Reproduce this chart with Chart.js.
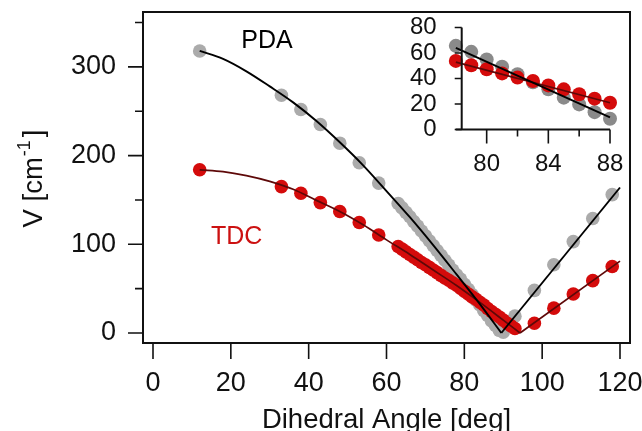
<!DOCTYPE html>
<html><head><meta charset="utf-8">
<script src="https://cdn.jsdelivr.net/npm/chart.js@4.4.1/dist/chart.umd.min.js"></script>
<style>
html,body{margin:0;padding:0;background:#fff;}
#wrap{position:relative;width:642px;height:431px;overflow:hidden;}
#main{position:absolute;left:0;top:0;}
#inset{position:absolute;left:380px;top:10px;}
</style></head><body>
<div id="wrap">
<canvas id="main" width="642" height="431" style="width:642px;height:431px"></canvas>
<canvas id="inset" width="250" height="170" style="width:250px;height:170px"></canvas>
</div>
<script>
// ---------- data ----------
const pdaAngle = [12,33,38,43,48,53,58,63,64,65,66,67,68,69,70,71,72,73,74,75,76,77,78,79,80,81,82,83,84,85,86,87,88,89,90,93,98,103,108,113,118];
const pdaV     = [318,268,252,235,214,192,169,146,141,136,131,125.5,120.5,115,109.5,104,98.5,93,87.5,82,76.5,71,65.6,60.9,55,49.3,43.3,37,31.5,25,19.7,13.6,8.4,3,1,19,48,77,103,129,156];

const tdcAngle = [12,33,38,43,48,53,58,63,64,65,66,67,68,69,70,71,72,73,74,75,76,77,78,79,80,81,82,83,84,85,86,87,88,89,90,91,92,93,98,103,108,113,118];
const tdcV     = [184,165,157.5,147,137,124.5,110.5,97.5,94.5,91.5,88.5,85.5,82.5,79.5,77,74,71,68,65,62,59.5,56.5,53.8,50.4,47.2,44,40.7,38,34.6,31.5,27.6,24.2,21,18,14.5,11,8,5,11,28,44,59,75];

// fitted curves
const pdaFitLeftAngle  = [12,18,24,30,36,42,48,54,60,66,72,78,84,89.5];
const pdaFitLeftV      = [318,309,295,278,260,239,215,189,160,130.5,99,66,32.5,0];
const pdaFitRightAngle = [89.5,120];
const pdaFitRightV     = [0,164];
const tdcFitLeftAngle  = [12,18,24,30,36,42,48,54,60,66,72,78,84,90,94.3];
const tdcFitLeftV      = [184,182,177.5,171,162,149.5,137,122,105,88.5,71,53.5,34.5,14.5,0];
const tdcFitRightAngle = [94.3,120];
const tdcFitRightV     = [0,81];

// inset fits
const pdaInsetFitAngle = [78,88];
const pdaInsetFitV     = [64,9.6];
const tdcInsetFitAngle = [78,88];
const tdcInsetFitV     = [52.8,21];

// ticks
const xTickValues = [0,20,40,60,80,100,120];
const yTickValues = [0,100,200,300];
const yMinorTickValues = [50,150,250,350];
const insetXTickValues = [80,84,88];
const insetXMinorTickValues = [82,86];
const insetYTickValues = [0,20,40,60,80];

const xTitle = 'Dihedral Angle [deg]';
const yTitleMain = 'V [cm';
const yTitleSup = '-1';
const yTitleEnd = ']';
const seriesLabels = ['PDA','TDC'];

// ---------- helpers ----------
const pairs = (xs, ys) => xs.map((x, i) => ({x: x, y: ys[i]}));
const FONT = "'Liberation Sans', Arial, Helvetica, sans-serif";
const GREY = '#ababab', GREY_DARK = '#8a8a8a', RED = '#d40b0b', RED_LINE = '#5e0808', TEXT = '#111';

function fixTicks(vals) {
  return s => { s.ticks = vals.map(v => ({value: v})); };
}

// ---------- main chart ----------
const mainDecor = {
  id: 'mainDecor',
  afterDraw(chart) {
    const {ctx, chartArea: a, scales: {x, y}} = chart;
    ctx.save();
    ctx.strokeStyle = TEXT;
    ctx.lineWidth = 2;
    ctx.strokeRect(a.left, a.top, a.right - a.left, a.bottom - a.top);
    ctx.lineWidth = 1.6;
    ctx.beginPath();
    xTickValues.forEach(v => { const p = x.getPixelForValue(v); ctx.moveTo(p, a.bottom); ctx.lineTo(p, a.bottom + 16); });
    yTickValues.forEach(v => { const p = y.getPixelForValue(v); ctx.moveTo(a.left - 15, p); ctx.lineTo(a.left, p); });
    yMinorTickValues.forEach(v => { const p = y.getPixelForValue(v); ctx.moveTo(a.left - 8, p); ctx.lineTo(a.left, p); });
    ctx.stroke();

    // x title
    ctx.fillStyle = TEXT;
    ctx.font = '27.5px ' + FONT;
    ctx.textAlign = 'center';
    ctx.textBaseline = 'alphabetic';
    ctx.fillText(xTitle, (a.left + a.right) / 2, 428);

    // y title with superscript
    ctx.save();
    ctx.translate(42, (a.top + a.bottom) / 2 + 1);
    ctx.rotate(-Math.PI / 2);
    ctx.textAlign = 'left';
    ctx.font = '27.5px ' + FONT;
    const w1 = ctx.measureText(yTitleMain).width;
    const w3 = ctx.measureText(yTitleEnd).width;
    ctx.font = '18px ' + FONT;
    const w2 = ctx.measureText(yTitleSup).width;
    const total = w1 + w2 + w3 + 4;
    let sx = -total / 2;
    ctx.font = '27.5px ' + FONT;
    ctx.fillText(yTitleMain, sx, 0);
    sx += w1 + 1;
    ctx.font = '18px ' + FONT;
    ctx.fillText(yTitleSup, sx, -12);
    sx += w2 + 3;
    ctx.font = '27.5px ' + FONT;
    ctx.fillText(yTitleEnd, sx, 0);
    ctx.restore();

    // series labels
    ctx.font = '25px ' + FONT;
    ctx.textAlign = 'center';
    ctx.textBaseline = 'middle';
    ctx.fillStyle = '#000';
    ctx.fillText(seriesLabels[0], x.getPixelForValue(29.3), y.getPixelForValue(329));
    ctx.fillStyle = '#cc1111';
    ctx.fillText(seriesLabels[1], x.getPixelForValue(21.5), y.getPixelForValue(108));
    ctx.restore();
  }
};

new Chart(document.getElementById('main'), {
  type: 'scatter',
  data: {
    datasets: [
      {label: 'PDA fit', data: pairs(pdaFitLeftAngle, pdaFitLeftV), showLine: true, borderColor: '#000', borderWidth: 1.9, pointRadius: 0, cubicInterpolationMode: 'monotone', order: 1},
      {label: 'PDA fit (right)', data: pairs(pdaFitRightAngle, pdaFitRightV), showLine: true, borderColor: '#000', borderWidth: 1.9, pointRadius: 0, tension: 0, order: 1},
      {label: 'TDC fit', data: pairs(tdcFitLeftAngle, tdcFitLeftV), showLine: true, borderColor: RED_LINE, borderWidth: 1.7, pointRadius: 0, cubicInterpolationMode: 'monotone', order: 2},
      {label: 'TDC fit (right)', data: pairs(tdcFitRightAngle, tdcFitRightV), showLine: true, borderColor: RED_LINE, borderWidth: 1.7, pointRadius: 0, tension: 0, order: 2},
      {label: 'TDC', data: pairs(tdcAngle, tdcV), showLine: false, pointRadius: 6.8, pointBackgroundColor: RED, pointBorderWidth: 0, order: 3},
      {label: 'PDA', data: pairs(pdaAngle, pdaV), showLine: false, pointRadius: 6.8, pointBackgroundColor: GREY, pointBorderWidth: 0, order: 4}
    ]
  },
  options: {
    responsive: false, animation: false, devicePixelRatio: 1,
    layout: {padding: {left: 0, right: 12, top: 12, bottom: 0}},
    plugins: {legend: {display: false}, tooltip: {enabled: false}},
    scales: {
      x: {
        type: 'linear', min: -2.57, max: 122.57,
        afterBuildTicks: fixTicks(xTickValues),
        afterFit: s => { s.height = 88; s.paddingLeft = 0; s.paddingRight = 0; },
        grid: {display: false, drawTicks: false}, border: {display: false},
        ticks: {padding: 24, color: TEXT, font: {family: FONT, size: 27}, maxRotation: 0, autoSkip: false}
      },
      y: {
        type: 'linear', min: -11.3, max: 361.9,
        afterBuildTicks: fixTicks(yTickValues),
        afterFit: s => { s.width = 143; s.paddingTop = 0; s.paddingBottom = 0; },
        grid: {display: false, drawTicks: false}, border: {display: false},
        ticks: {padding: 27, color: TEXT, font: {family: FONT, size: 27}, autoSkip: false}
      }
    }
  },
  plugins: [mainDecor]
});

// ---------- inset chart ----------
const inRange = (xs, ys) => pairs(xs, ys).filter(p => p.x >= 78 && p.x <= 88);

const insetDecor = {
  id: 'insetDecor',
  afterDraw(chart) {
    const {ctx, chartArea: a, scales: {x, y}} = chart;
    ctx.save();
    ctx.strokeStyle = TEXT;
    ctx.lineWidth = 2;
    ctx.beginPath();
    ctx.moveTo(a.left, a.top); ctx.lineTo(a.left, a.bottom);
    ctx.moveTo(a.left - 6, a.bottom); ctx.lineTo(a.right, a.bottom);
    ctx.stroke();
    ctx.lineWidth = 1.6;
    ctx.beginPath();
    insetXTickValues.forEach(v => { const p = x.getPixelForValue(v); ctx.moveTo(p, a.bottom); ctx.lineTo(p, a.bottom + 14); });
    insetXMinorTickValues.forEach(v => { const p = x.getPixelForValue(v); ctx.moveTo(p, a.bottom); ctx.lineTo(p, a.bottom + 7); });
    insetYTickValues.forEach(v => { const p = y.getPixelForValue(v); ctx.moveTo(a.left - 7, p); ctx.lineTo(a.left, p); });
    ctx.stroke();
    ctx.restore();
  }
};

new Chart(document.getElementById('inset'), {
  type: 'scatter',
  data: {
    datasets: [
      {label: 'PDA fit', data: pairs(pdaInsetFitAngle, pdaInsetFitV), showLine: true, borderColor: '#000', borderWidth: 1.9, pointRadius: 0, order: 1},
      {label: 'TDC fit', data: pairs(tdcInsetFitAngle, tdcInsetFitV), showLine: true, borderColor: RED_LINE, borderWidth: 1.7, pointRadius: 0, order: 2},
      {label: 'TDC', data: inRange(tdcAngle, tdcV), showLine: false, pointRadius: 7, pointBackgroundColor: RED, pointBorderWidth: 0, order: 3},
      {label: 'PDA', data: inRange(pdaAngle, pdaV), showLine: false, pointRadius: 7, pointBackgroundColor: GREY_DARK, pointBorderWidth: 0, order: 4}
    ]
  },
  options: {
    responsive: false, animation: false, devicePixelRatio: 1,
    clip: false,
    layout: {padding: {left: 0, right: 20, top: 17.5, bottom: 0}},
    plugins: {legend: {display: false}, tooltip: {enabled: false}},
    scales: {
      x: {
        type: 'linear', min: 78.38, max: 88,
        afterBuildTicks: fixTicks(insetXTickValues),
        afterFit: s => { s.height = 50.5; s.paddingLeft = 0; s.paddingRight = 0; },
        grid: {display: false, drawTicks: false}, border: {display: false},
        ticks: {padding: 20, color: TEXT, font: {family: FONT, size: 24}, maxRotation: 0, autoSkip: false}
      },
      y: {
        type: 'linear', min: 0, max: 80,
        afterBuildTicks: fixTicks(insetYTickValues),
        afterFit: s => { s.width = 81.7; s.paddingTop = 0; s.paddingBottom = 0; },
        grid: {display: false, drawTicks: false}, border: {display: false},
        ticks: {padding: 25, color: TEXT, font: {family: FONT, size: 24}, autoSkip: false}
      }
    }
  },
  plugins: [insetDecor]
});
</script>
</body></html>
